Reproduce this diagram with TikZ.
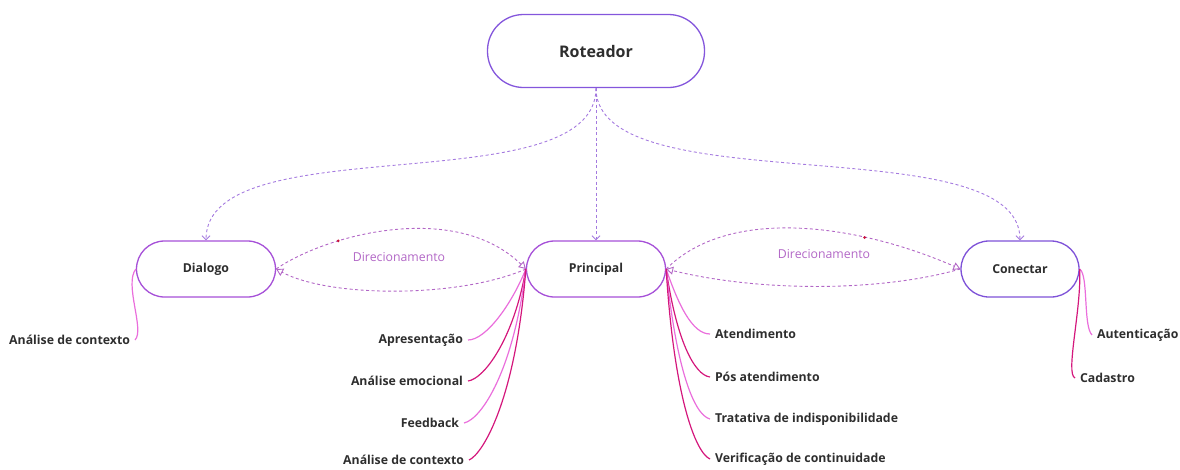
\documentclass[tikz,border=0pt]{standalone}
\usepackage{fontspec}
\setmainfont{Open Sans}
\usetikzlibrary{arrows.meta,calc}
\definecolor{Ink}{HTML}{2E2E2E}
\definecolor{Violet}{HTML}{8456DC}
\definecolor{Orchid}{HTML}{A650D8}
\definecolor{Indigo}{HTML}{7E52D8}
\definecolor{Lilac}{HTML}{A47ADF}
\definecolor{Mauve}{HTML}{B267C6}
\definecolor{Pink}{HTML}{EA6EDC}
\definecolor{Magenta}{HTML}{D4177C}
\definecolor{Berry}{HTML}{C8103A}

\begin{document}
\begin{tikzpicture}[x=1pt,y=-1pt,
    box/.style={draw=Orchid,line width=1.3pt,fill=white,rounded corners=28pt,
      minimum width=139pt,minimum height=56pt,text=Ink,
      font=\fontsize{12.3}{14}\selectfont\bfseries},
    leaf/.style={text=Ink,inner sep=1pt,outer sep=4pt,
      font=\fontsize{12.3}{14}\selectfont\bfseries},
    route/.style={Lilac,line width=0.9pt,dash pattern=on 3pt off 2.5pt,
      -{Straight Barb[length=4pt,width=8pt]}},
    link/.style={Mauve,line width=0.9pt,dash pattern=on 3pt off 2.5pt,
      -{Triangle[open,length=7pt,width=8pt]}},
    branch/.style={line width=1.2pt},
    reddot/.style={circle,fill=Berry,inner sep=0pt,minimum size=3pt}]
    \useasboundingbox (0,0) rectangle (1180,469);

    \node[box,draw=Violet,rounded corners=36pt,minimum width=217pt,minimum height=73pt,
      font=\fontsize{16}{19}\selectfont\bfseries] (rot) at (596,51) {Roteador};
    \node[box] (dia) at (206,269) {Dialogo};
    \node[box] (pri) at (596,269) {Principal};
    \node[box,draw=Indigo,minimum width=118pt] (con) at (1020,269) {Conectar};

    \draw[route] (rot.south) .. controls (596,205) and (206,125) .. (dia.north);
    \draw[route] (rot.south) -- (pri.north);
    \draw[route] (rot.south) .. controls (596,205) and (1020,125) .. (con.north);

    \draw[link] (dia.east) .. controls (325,235) and (455,200) .. (pri.west)
      node[reddot,pos=0.3] (dot1) {};
    \draw[link] (pri.west) .. controls (460,298) and (330,298) .. (dia.east);
    \node[text=Mauve,font=\fontsize{12.3}{14}\selectfont] (dir1) at (399,257) {Direcionamento};

    \draw[link] (pri.east) .. controls (730,205) and (860,225) .. (con.west)
      node[reddot,pos=0.7] (dot2) {};
    \draw[link] (con.west) .. controls (880,292) and (760,292) .. (pri.east);
    \node[text=Mauve,font=\fontsize{12.3}{14}\selectfont] (dir2) at (824,254) {Direcionamento};

    \node[leaf,anchor=east] (ctxd) at (135,340) {Análise de contexto};
    \draw[branch,Pink] (dia.west) .. controls +(-12,15) and +(10,-10) .. (ctxd.east);

    \node[leaf,anchor=east] (apr) at (468,340) {Apresentação};
    \node[leaf,anchor=east] (emo) at (468,381) {Análise emocional};
    \node[leaf,anchor=east] (fee) at (464,423) {Feedback};
    \node[leaf,anchor=east] (ctxp) at (469,460) {Análise de contexto};
    \draw[branch,Pink] (pri.west) .. controls +(-14,35) and +(18,0) .. (apr.east);
    \draw[branch,Magenta] (pri.west) .. controls +(-12,70) and +(16,-2) .. (emo.east);
    \draw[branch,Pink] (pri.west) .. controls +(-12,100) and +(18,-4) .. (fee.east);
    \draw[branch,Magenta] (pri.west) .. controls +(-10,130) and +(14,-6) .. (ctxp.east);

    \node[leaf,anchor=west] (ate) at (710,334) {Atendimento};
    \node[leaf,anchor=west] (pos) at (710,377) {Pós atendimento};
    \node[leaf,anchor=west] (tra) at (710,419) {Tratativa de indisponibilidade};
    \node[leaf,anchor=west] (ver) at (710,459) {Verificação de continuidade};
    \draw[branch,Pink] (pri.east) .. controls +(12,35) and +(-18,0) .. (ate.west);
    \draw[branch,Magenta] (pri.east) .. controls +(10,70) and +(-16,-2) .. (pos.west);
    \draw[branch,Pink] (pri.east) .. controls +(10,100) and +(-16,-4) .. (tra.west);
    \draw[branch,Magenta] (pri.east) .. controls +(8,130) and +(-14,-6) .. (ver.west);

    \node[leaf,anchor=west] (aut) at (1092,335) {Autenticação};
    \node[leaf,anchor=west] (cad) at (1075,378) {Cadastro};
    \draw[branch,Pink] (con.east) .. controls +(9,6) and +(-9,-9) .. (aut.west);
    \draw[branch,Magenta] (con.east) .. controls +(2,40) and +(-10,-4) .. (cad.west);
  \end{tikzpicture}
\end{document}
